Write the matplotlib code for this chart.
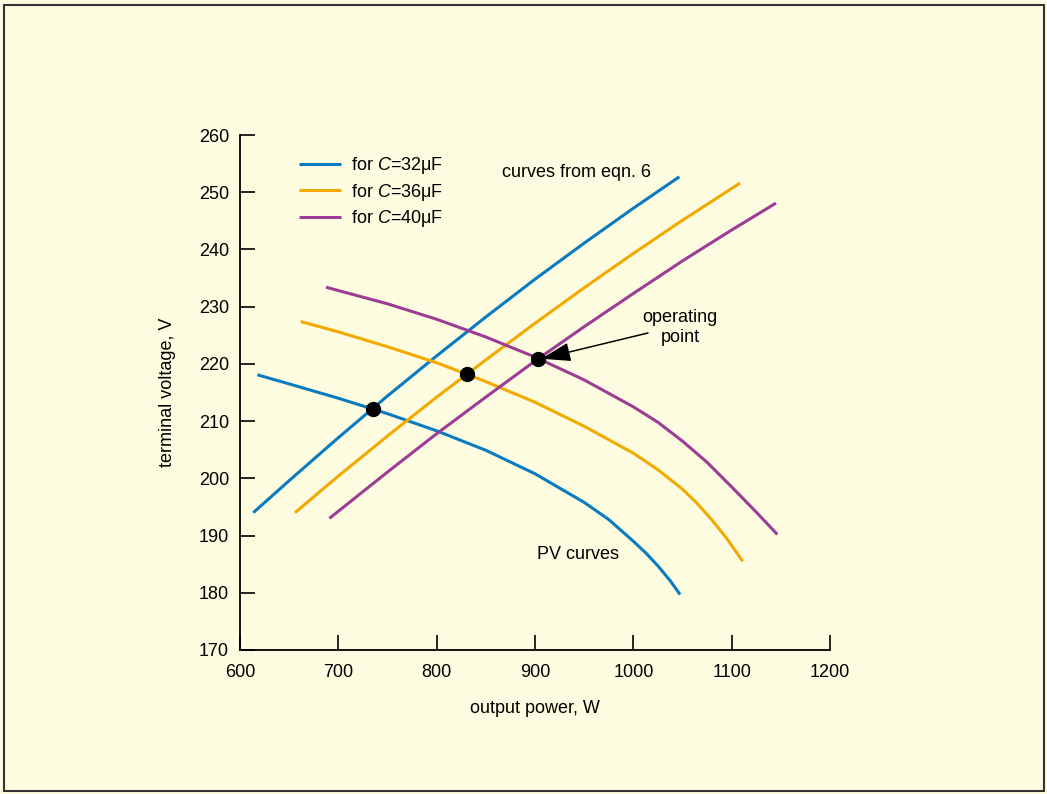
import matplotlib.pyplot as plt
from matplotlib.patches import Rectangle

plt.rcParams['font.family'] = ['Liberation Sans', 'DejaVu Sans']
plt.rcParams['mathtext.fontset'] = 'custom'
plt.rcParams['mathtext.rm'] = 'Liberation Sans'
plt.rcParams['mathtext.it'] = 'Liberation Sans:italic'

# curves from eqn. 6 (rising)
eq_32_p = [613.5, 650, 700, 750, 800, 850, 900, 950, 1000, 1046.8]
eq_32_v = [194.0, 199.6, 207.1, 214.4, 221.4, 228.2, 234.8, 241.1, 247.2, 252.7]
eq_36_p = [655.9, 700, 750, 800, 850, 900, 950, 1000, 1050, 1108.5]
eq_36_v = [194.0, 200.4, 207.4, 214.2, 220.7, 227.1, 233.3, 239.3, 245.1, 251.6]
eq_40_p = [690.9, 750, 800, 850, 900, 950, 1000, 1050, 1100, 1145.1]
eq_40_v = [193.0, 201.1, 207.8, 214.2, 220.5, 226.5, 232.3, 238.0, 243.4, 248.1]

# PV curves (falling)
pv_32_p = [617.6, 650, 700, 750, 800, 850, 900, 950, 975, 1000, 1012.5, 1025, 1037.5, 1047.5]
pv_32_v = [218.1, 216.5, 214.0, 211.3, 208.3, 204.9, 200.8, 195.8, 192.8, 189.0, 187.0, 184.7,
           182.1, 179.7]
pv_36_p = [661.7, 700, 750, 800, 850, 900, 950, 1000, 1025, 1050, 1065, 1080, 1095, 1111.2]
pv_36_v = [227.4, 225.6, 223.0, 220.2, 216.9, 213.3, 209.1, 204.4, 201.5, 198.1, 195.6, 192.7,
           189.5, 185.5]
pv_40_p = [687.5, 750, 800, 850, 900, 950, 1000, 1025, 1050, 1075, 1100, 1125, 1146.4]
pv_40_v = [233.4, 230.5, 227.8, 224.7, 221.2, 217.2, 212.5, 209.8, 206.5, 202.8, 198.5, 194.1,
           190.2]

# operating points
op_p = [734.8, 830.5, 903.4]
op_v = [212.2, 218.2, 220.9]

labels = ['for $C$=32\u03bcF', 'for $C$=36\u03bcF', 'for $C$=40\u03bcF']
colors = ['#0a7bc0', '#f2a900', '#9c3d95']
bg = '#fefce0'

fig = plt.figure(figsize=(10.47, 7.94), dpi=100, facecolor=bg)
fig.patches.append(Rectangle((4 / 1047, 3 / 794), 1040 / 1047, 786 / 794, transform=fig.transFigure,
                             fill=False, edgecolor='#333333', linewidth=1.5))
ax = fig.add_axes([240 / 1047, 1 - 650 / 794, 590 / 1047, 515 / 794])
ax.set_facecolor(bg)

eq_p = [eq_32_p, eq_36_p, eq_40_p]
eq_v = [eq_32_v, eq_36_v, eq_40_v]
pv_p = [pv_32_p, pv_36_p, pv_40_p]
pv_v = [pv_32_v, pv_36_v, pv_40_v]
for i in range(3):
    ax.plot(eq_p[i], eq_v[i], color=colors[i], lw=2.2, label=labels[i],
            solid_capstyle='butt', solid_joinstyle='round')
    ax.plot(pv_p[i], pv_v[i], color=colors[i], lw=2.2,
            solid_capstyle='butt', solid_joinstyle='round')
ax.plot(op_p, op_v, 'o', color='black', markersize=10, zorder=5)

ax.set_xlim(600, 1200)
ax.set_ylim(170, 260)
ax.set_xticks(range(600, 1201, 100))
ax.set_yticks(range(170, 261, 10))
ax.spines['top'].set_visible(False)
ax.spines['right'].set_visible(False)
ax.spines['left'].set_linewidth(1.3)
ax.spines['bottom'].set_linewidth(1.3)
ax.tick_params(direction='in', length=11, width=1.2, labelsize=13)
ax.tick_params(axis='y', pad=8)
ax.tick_params(axis='x', pad=10)
ax.set_xlabel('output power, W', fontsize=13, labelpad=14)
ax.set_ylabel('terminal voltage, V', fontsize=13, labelpad=16)

ax.text(866.5, 253.4, 'curves from eqn. 6', fontsize=13, va='center', ha='left')
ax.text(902, 186.7, 'PV curves', fontsize=13, va='center', ha='left')
ax.text(1047.5, 226.4, 'operating\npoint', fontsize=13, va='center', ha='center', linespacing=1.25)
ax.annotate('', xy=(906.5, 220.9), xytext=(1014.9, 225.4),
            arrowprops=dict(arrowstyle='-|>,head_length=1.3,head_width=0.42', color='black',
                            lw=1.1, mutation_scale=14, shrinkA=0, shrinkB=0))

ax.legend(loc='upper left', bbox_to_anchor=(0.085, 0.978), frameon=False, fontsize=13,
          handlelength=2.3, handletextpad=0.55, labelspacing=0.3, borderpad=0)

plt.savefig('out.png', dpi=100, facecolor=bg)
